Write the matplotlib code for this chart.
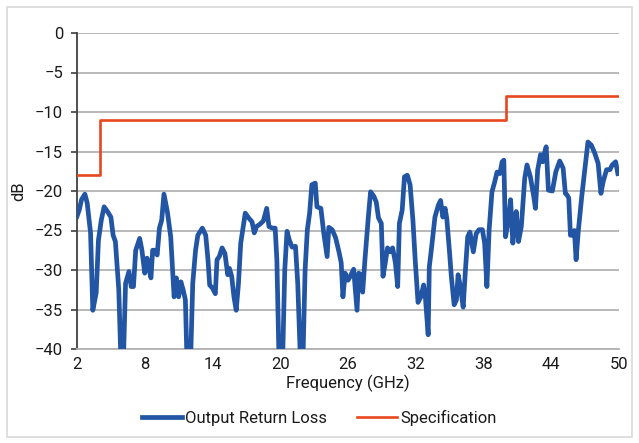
import matplotlib
matplotlib.use("Agg")
import matplotlib.pyplot as plt
from matplotlib.patches import Rectangle
from matplotlib import font_manager

# Measured output return loss (dB) versus frequency (GHz)
freq_ghz = [2.0, 2.2, 2.4, 2.7, 2.9, 3.2, 3.4, 3.7, 3.9, 4.15, 4.4, 4.7, 5.0, 5.2, 5.4,
            5.7, 5.9, 6.1, 6.3, 6.6, 6.8, 7.0, 7.2, 7.55, 7.75, 8.0, 8.2, 8.4, 8.55,
            8.7, 8.9, 9.1, 9.3, 9.5, 9.7, 10.0, 10.3, 10.4, 10.6, 10.8, 11.0, 11.2,
            11.4, 11.6, 11.75, 12.05, 12.25, 12.5, 12.7, 13.1, 13.4, 13.6, 13.75,
            14.0, 14.25, 14.4, 14.6, 14.85, 15.1, 15.35, 15.5, 15.7, 15.9, 16.1,
            16.3, 16.5, 16.8, 16.9, 17.2, 17.5, 17.7, 17.9, 18.2, 18.5, 18.8, 19.0,
            19.3, 19.55, 19.7, 19.9, 20.2, 20.4, 20.6, 20.8, 21.05, 21.35, 21.55,
            21.8, 22.0, 22.2, 22.4, 22.6, 22.8, 23.1, 23.25, 23.6, 23.85, 24.15,
            24.3, 24.6, 24.9, 25.2, 25.4, 25.55, 25.75, 26.0, 26.2, 26.5, 26.65,
            26.8, 26.95, 27.15, 27.3, 27.5, 27.8, 28.0, 28.3, 28.5, 28.7, 28.95,
            29.1, 29.3, 29.5, 29.75, 29.95, 30.2, 30.4, 30.55, 30.8, 31.0, 31.25,
            31.5, 31.75, 31.95, 32.2, 32.45, 32.7, 32.85, 33.1, 33.2, 33.4, 33.7,
            34.0, 34.2, 34.4, 34.6, 34.75, 35.0, 35.15, 35.4, 35.6, 35.75, 35.95,
            36.2, 36.4, 36.6, 36.8, 37.1, 37.35, 37.6, 37.9, 38.1, 38.3, 38.5,
            38.75, 39.0, 39.2, 39.45, 39.65, 39.8, 39.95, 40.2, 40.4, 40.6, 40.75,
            40.9, 41.1, 41.35, 41.65, 41.85, 42.15, 42.45, 42.6, 42.8, 43.05,
            43.25, 43.4, 43.55, 43.75, 44.1, 44.4, 44.75, 45.05, 45.25, 45.4,
            45.55, 45.7, 45.9, 46.05, 46.2, 46.4, 46.7, 47.0, 47.25, 47.55, 47.85,
            48.15, 48.4, 48.6, 48.9, 49.2, 49.4, 49.7, 49.9]
return_loss_db = [-23.2, -22.4, -21.1, -20.4, -21.5, -25.3, -35.1, -32.9, -26.2, -23.7,
                  -22.0, -22.6, -23.3, -25.6, -26.4, -32.5, -42.0, -42.0, -31.7,
                  -30.2, -32.1, -32.1, -27.5, -26.0, -27.5, -30.4, -28.5, -30.0,
                  -31.0, -27.5, -27.5, -28.1, -24.7, -23.7, -20.4, -22.6, -25.8,
                  -28.3, -33.4, -31.0, -33.4, -31.5, -32.5, -33.8, -42.0, -42.0,
                  -31.7, -27.5, -25.6, -24.7, -25.6, -28.7, -31.9, -32.3, -33.0,
                  -28.7, -28.3, -27.2, -27.9, -30.6, -29.8, -30.8, -33.4, -35.1,
                  -31.7, -26.6, -23.7, -22.8, -23.4, -23.9, -25.3, -24.5, -24.2,
                  -23.8, -22.2, -24.5, -24.7, -24.7, -28.7, -42.0, -42.0, -30.0,
                  -25.1, -26.2, -27.1, -27.0, -31.7, -42.0, -42.0, -30.0, -24.9,
                  -22.8, -19.2, -19.0, -22.0, -22.2, -25.3, -28.3, -24.6, -24.9,
                  -25.9, -27.7, -29.1, -33.4, -30.4, -31.3, -30.8, -29.9, -32.5,
                  -35.1, -30.4, -30.6, -32.8, -28.7, -23.3, -20.1, -20.7, -21.4,
                  -23.4, -24.1, -30.8, -29.1, -27.2, -27.7, -27.2, -29.1, -32.1,
                  -24.1, -22.4, -18.2, -18.0, -19.2, -23.7, -28.7, -34.1, -33.4,
                  -31.9, -33.4, -38.2, -29.6, -27.2, -23.3, -21.8, -21.2, -23.3,
                  -22.2, -23.5, -27.9, -30.8, -34.4, -33.8, -30.6, -32.1, -34.7,
                  -30.0, -25.8, -25.2, -27.7, -25.4, -24.9, -24.9, -26.6, -32.1,
                  -24.9, -20.1, -18.8, -17.6, -17.8, -16.3, -16.1, -25.8, -23.7,
                  -21.1, -26.6, -24.3, -22.6, -26.4, -24.5, -18.4, -16.7, -18.2,
                  -20.7, -22.2, -17.3, -15.4, -16.3, -15.2, -14.4, -19.9, -20.0,
                  -17.6, -16.2, -17.1, -20.3, -20.5, -20.9, -25.6, -25.6, -25.0,
                  -28.7, -25.0, -20.7, -16.9, -13.8, -14.2, -15.2, -16.5, -20.3,
                  -18.8, -17.3, -17.3, -16.7, -16.3, -17.8]

# Specification mask (step limits)
spec_freq_ghz = [2, 4, 4, 40, 40, 50]
spec_db = [-18, -18, -11, -11, -8, -8]

x_ticks = [2, 8, 14, 20, 26, 32, 38, 44, 50]
y_ticks = [0, -5, -10, -15, -20, -25, -30, -35, -40]

installed = {f.name for f in font_manager.fontManager.ttflist}
family = [f for f in ["Liberation Sans Narrow", "Roboto", "DejaVu Sans"] if f in installed]
plt.rcParams["font.family"] = family
plt.rcParams["axes.unicode_minus"] = True

BLUE = "#2255a4"
ORANGE = "#e8461e"
TEXT = "#1a1a1a"

fig = plt.figure(figsize=(6.39, 4.43), dpi=100)
fig.patch.set_facecolor("white")
fig.patches.append(Rectangle((7 / 639, 6 / 443), 625 / 639, 430 / 443,
                             transform=fig.transFigure, fill=False,
                             edgecolor="#d9d9d9", linewidth=1.2))

ax = fig.add_axes([77 / 639, 1 - 349 / 443, (619 - 77) / 639, (349 - 33) / 443])

ax.plot(freq_ghz, return_loss_db, color=BLUE, linewidth=3.4,
        solid_joinstyle="round", label="Output Return Loss", zorder=3)
ax.plot(spec_freq_ghz, spec_db, color=ORANGE, linewidth=1.9,
        label="Specification", zorder=4)

ax.set_xlim(2, 50)
ax.set_ylim(-40, 0)
ax.set_xticks(x_ticks)
ax.set_yticks(y_ticks)
ax.set_yticklabels([f"{v}".replace("-", "\u2212") for v in y_ticks])

ax.grid(axis="y", color="#b3b3b3", linewidth=1.3)
ax.set_axisbelow(True)
for side in ("top", "right"):
    ax.spines[side].set_visible(False)
ax.spines["bottom"].set_color("#b3b3b3")
ax.spines["bottom"].set_linewidth(1.3)
ax.spines["left"].set_color("#404040")
ax.spines["left"].set_linewidth(1.3)
ax.tick_params(axis="y", length=4, width=1.2, color="#404040", labelsize=12,
               labelcolor=TEXT, pad=6)
ax.tick_params(axis="x", length=0, labelsize=12, labelcolor=TEXT, pad=6)

ax.set_xlabel("Frequency (GHz)", fontsize=12, color=TEXT, labelpad=2)
ax.set_ylabel("dB", fontsize=12, color=TEXT, labelpad=6)

fig.legend(loc="center", bbox_to_anchor=(0.5, 1 - 418 / 443), ncol=2,
           frameon=False, fontsize=12, handlelength=2.4, columnspacing=1.8,
           handletextpad=0.2, labelcolor=TEXT)

fig.savefig("out.png", dpi=100, facecolor="white")
